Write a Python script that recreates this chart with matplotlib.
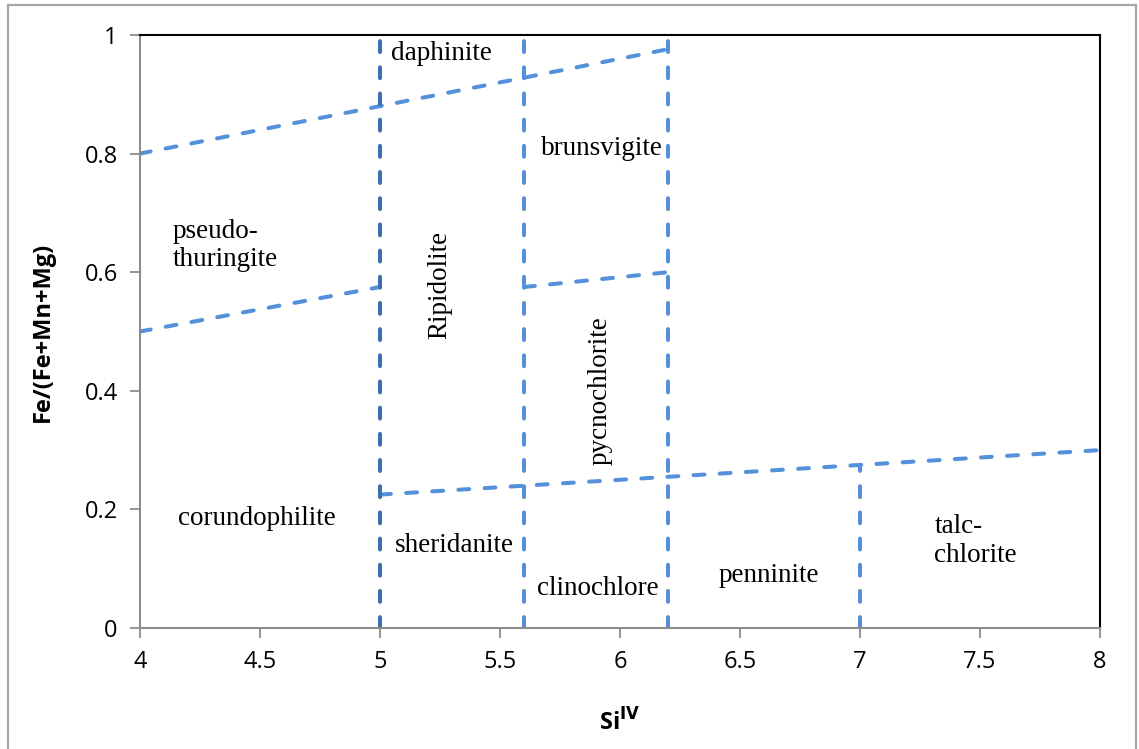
import matplotlib.pyplot as plt
from matplotlib.lines import Line2D

# chlorite classification boundaries (Si-IV vs Fe/(Fe+Mn+Mg))
slant_x = [[4, 6.2], [4, 5], [5.6, 6.2], [5, 8]]
slant_y = [[0.8, 0.976], [0.5, 0.575], [0.575, 0.6], [0.225, 0.3]]

vert_x = [5, 5.6, 6.2, 7]
vert_top = [1, 1, 1, 0.275]
vert_colors = ['#3d6fae', '#5590db', '#5590db', '#5590db']

# field names and where they sit
names = ['daphinite', 'brunsvigite', 'pseudo-\nthuringite', 'Ripidolite',
         'pycnochlorite', 'corundophilite', 'sheridanite', 'clinochlore',
         'penninite', 'talc-\nchlorite']
name_x = [5.254, 5.925, 4.135, 5.25, 5.917, 4.4875, 5.308, 5.908, 6.62, 7.31]
name_y = [0.968, 0.809, 0.645, 0.578, 0.401, 0.184, 0.14, 0.0675, 0.088, 0.147]
name_rot = [0, 0, 0, 90, 90, 0, 0, 0, 0, 0]
name_ha = ['center', 'center', 'left', 'center', 'center', 'center',
           'center', 'center', 'center', 'left']

xticks = [4, 4.5, 5, 5.5, 6, 6.5, 7, 7.5, 8]
yticks = [0, 0.2, 0.4, 0.6, 0.8, 1]

fig = plt.figure(figsize=(11.39, 7.49), dpi=100)
ax = fig.add_axes([0.1229, 0.1615, 0.8429, 0.7918])

dash_kw = dict(lw=2.9, dashes=(2.7, 3.8), dash_capstyle='round')
for xs, ys in zip(slant_x, slant_y):
    ax.plot(xs, ys, color='#5590db', **dash_kw)
for x, top, c in zip(vert_x, vert_top, vert_colors):
    ax.plot([x, x], [0, top], color=c, **dash_kw)

for s, x, y, r, ha in zip(names, name_x, name_y, name_rot, name_ha):
    ax.text(x, y, s, rotation=r, ha=ha, va='center', fontsize=19.5,
            family='Liberation Serif', linespacing=1.2)

ax.set_xlim(4, 8)
ax.set_ylim(0, 1)
ax.set_xticks(xticks)
ax.set_xticklabels([f'{t:g}' for t in xticks])
ax.set_yticks(yticks)
ax.set_yticklabels([f'{t:g}' for t in yticks])
ax.tick_params(direction='out', length=7, width=1.3, color='#8c8c8c',
               labelsize=17, pad=9)
for lab in ax.get_xticklabels() + ax.get_yticklabels():
    lab.set_family('Open Sans')

for side in ['left', 'bottom']:
    ax.spines[side].set_color('#8c8c8c')
    ax.spines[side].set_linewidth(1.5)
for side in ['top', 'right']:
    ax.spines[side].set_color('black')
    ax.spines[side].set_linewidth(1.5)

ax.set_xlabel('Si$^{\\mathbf{IV}}$', fontsize=17, fontweight='bold',
              family='Open Sans', labelpad=25)
ax.set_ylabel('Fe/(Fe+Mn+Mg)', fontsize=17, fontweight='bold',
              family='Open Sans', labelpad=21)

# frame around the chart area
W, H = 1139, 749
fc = '#a6a6a6'
fig.add_artist(Line2D([8 / W, 8 / W], [0, 1 - 5 / H], color=fc, lw=1.6))
fig.add_artist(Line2D([8 / W, 1136 / W], [1 - 5 / H, 1 - 5 / H], color=fc, lw=1.6))
fig.add_artist(Line2D([1136 / W, 1136 / W], [0, 1 - 5 / H], color=fc, lw=1.6))

fig.savefig('out.png', dpi=100)
